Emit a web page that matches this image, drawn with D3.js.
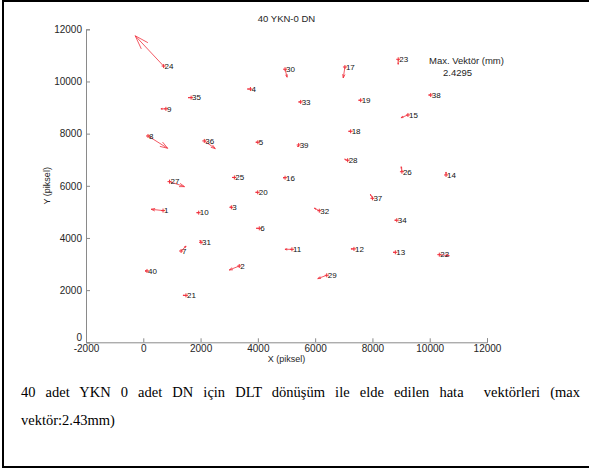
<!DOCTYPE html>
<html>
<head>
<meta charset="utf-8">
<script src="https://cdn.jsdelivr.net/npm/d3@7"></script>
<style>
	body { margin: 0; background: #fff; }
	svg { display: block; }
</style>
</head>
<body>
<div id="chart"></div>
<script>
(function () {
	"use strict";

	// nokta numaralari, konumlari (piksel) ve hata vektorleri (cizim olcegi ile)
	var pointIds = [24, 35, 9, 4, 8, 36, 5, 27, 25, 1, 10, 3, 20, 6, 31, 7, 40, 2, 21, 30,
		17, 23, 33, 19, 38, 15, 18, 39, 28, 26, 14, 16, 37, 32, 34, 11, 12, 13, 22, 29];
	var pointX = [710, 1670, 790, 3740, 165, 2130, 4000, 915, 3180, 690, 1935, 3075, 3995, 4050, 2015, 1320, 130, 3350, 1490, 4950,
		7040, 8900, 5495, 7590, 10035, 9240, 7240, 5425, 7135, 9030, 10570, 4950, 8000, 6145, 8850, 5190, 7355, 8800, 10335, 6405];
	var pointY = [10590, 9380, 8950, 9710, 7910, 7720, 7670, 6160, 6320, 5050, 4970, 5175, 5750, 4370, 3835, 3500, 2735, 2925, 1800, 10470,
		10555, 10850, 9215, 9280, 9480, 8715, 8090, 7565, 6980, 6540, 6415, 6310, 5520, 5045, 4680, 3565, 3580, 3450, 3360, 2570];
	var errX = [-992, -105, -175, -105, 688, 384, -70, 524, -70, -419, -70, -35, -70, -105, -35, 175, -70, -349, -105, 70,
		-59, 0, -70, -70, -70, -244, -70, -35, -105, -24, 0, -70, -70, -175, -70, -244, -105, -70, 349, -314];
	var errY = [1162, 0, 0, 0, -472, -295, 0, -192, 0, 50, 0, 20, 0, 0, 77, 192, 0, -153, 0, -307,
		-422, -192, 0, 0, 0, -104, 0, -77, 38, 192, 115, 0, 153, 96, 0, 0, 0, 0, -38, -127];

	var xTicks = [-2000, 0, 2000, 4000, 6000, 8000, 10000, 12000];
	var yTicks = [0, 2000, 4000, 6000, 8000, 10000, 12000];

	var title = '40 YKN-0 DN';
	var legendLines = ['Max. Vektör (mm)', '2.4295'];
	var captionLines = ['40 adet YKN 0 adet DN için DLT dönüşüm ile elde edilen hata  vektörleri (max', 'vektör:2.43mm)'];

	var WIDTH = 589;
	var HEIGHT = 469;
	var AXIS_COLOR = '#8a8a8a';
	var TEXT_COLOR = '#262626';
	var SANS = 'Arial, "Liberation Sans", sans-serif';

	var svg = d3.select('#chart').append('svg')
		.attr('width', WIDTH)
		.attr('height', HEIGHT);

	svg.append('rect')
		.attr('width', WIDTH)
		.attr('height', HEIGHT)
		.attr('fill', 'white');

	// cerceve: ust, sol ve alt kenar
	svg.append('path')
		.attr('d', 'M' + (WIDTH + 2) + ',1 H3 V467 H' + (WIDTH + 2))
		.attr('fill', 'none')
		.attr('stroke', 'black')
		.attr('stroke-width', 2);

	var x = d3.scaleLinear().domain([-2000, 12000]).range([86, 487]);
	var y = d3.scaleLinear().domain([0, 12000]).range([342.3, 29.3]);

	var plainNumber = function (d) { return String(d); };

	var xAxis = svg.append('g')
		.attr('transform', 'translate(0,' + y(0) + ')')
		.call(d3.axisBottom(x).tickValues(xTicks).tickSize(-4).tickPadding(3).tickFormat(plainNumber));
	var yAxis = svg.append('g')
		.attr('transform', 'translate(' + x(-2000) + ',0)')
		.call(d3.axisLeft(y).tickValues(yTicks).tickSize(-4).tickPadding(4).tickFormat(plainNumber));

	[xAxis, yAxis].forEach(function (axis) {
		axis.select('.domain').attr('stroke', AXIS_COLOR).attr('stroke-width', 1);
		axis.selectAll('.tick line').attr('stroke', AXIS_COLOR);
		axis.selectAll('.tick text')
			.attr('fill', TEXT_COLOR)
			.style('font-family', SANS)
			.style('font-size', '10px');
	});
	// MATLAB usulu: "0" etiketi eksenin hemen ustunde
	yAxis.selectAll('.tick text').filter(function (d) { return d === 0; }).attr('dy', '-0.15em');

	svg.append('text')
		.attr('x', (x.range()[0] + x.range()[1]) / 2)
		.attr('y', 22)
		.attr('text-anchor', 'middle')
		.attr('fill', TEXT_COLOR)
		.style('font-family', SANS)
		.style('font-size', '9.5px')
		.text(title);

	svg.append('text')
		.attr('x', (x.range()[0] + x.range()[1]) / 2)
		.attr('y', 362)
		.attr('text-anchor', 'middle')
		.attr('fill', TEXT_COLOR)
		.style('font-family', SANS)
		.style('font-size', '9px')
		.text('X (piksel)');

	svg.append('text')
		.attr('transform', 'translate(50,' + ((y.range()[0] + y.range()[1]) / 2) + ') rotate(-90)')
		.attr('text-anchor', 'middle')
		.attr('fill', TEXT_COLOR)
		.style('font-family', SANS)
		.style('font-size', '9px')
		.text('Y (piksel)');

	svg.selectAll('.legend-line')
		.data(legendLines)
		.enter()
		.append('text')
		.classed('legend-line', true)
		.attr('x', function (_, i) { return i === 0 ? 429 : 443; })
		.attr('y', function (_, i) { return 64 + i * 12; })
		.attr('fill', TEXT_COLOR)
		.style('font-family', SANS)
		.style('font-size', '9.5px')
		.text(function (d) { return d; });

	var points = pointIds.map(function (id, i) {
		return { id: id, x: pointX[i], y: pointY[i], u: errX[i], v: errY[i] };
	});

	var pointGroups = svg.append('g')
		.selectAll('.point')
		.data(points)
		.enter()
		.append('g')
		.classed('point', true);

	pointGroups.append('path')
		.attr('d', function (p) { return arrowPath(p); })
		.attr('fill', 'none')
		.attr('stroke', '#f0303c')
		.attr('stroke-width', 0.8);

	pointGroups.append('path')
		.attr('d', function (p) {
			var px = x(p.x), py = y(p.y);
			return 'M' + (px - 2) + ',' + py + 'H' + (px + 2) + 'M' + px + ',' + (py - 2) + 'V' + (py + 2);
		})
		.attr('stroke', '#f0303c')
		.attr('stroke-width', 1);

	pointGroups.append('text')
		.attr('x', function (p) { return x(p.x) + 1; })
		.attr('y', function (p) { return y(p.y); })
		.attr('dy', '0.35em')
		.attr('fill', '#111')
		.style('font-family', SANS)
		.style('font-size', '8px')
		.text(function (p) { return p.id; });

	// alt yazi, iki yana yasli
	var caption = svg.append('g')
		.selectAll('text')
		.data(captionLines)
		.enter()
		.append('text')
		.attr('x', 21)
		.attr('y', function (_, i) { return 397 + i * 28; })
		.attr('fill', 'black')
		.style('font-family', '"Liberation Serif", "Times New Roman", serif')
		.style('font-size', '14.5px')
		.style('white-space', 'pre')
		.text(function (d) { return d; });

	caption.filter(function (_, i) { return i === 0; })
		.each(function (d) {
			var textWidth = this.getComputedTextLength();
			var spaces = d.split(' ').length - 1;
			d3.select(this).attr('word-spacing', (580 - 21 - textWidth) / spaces);
		});

	function arrowPath(p) {
		var x0 = x(p.x), y0 = y(p.y);
		var x1 = x(p.x + p.u), y1 = y(p.y + p.v);
		var dx = x1 - x0, dy = y1 - y0;
		if (Math.sqrt(dx * dx + dy * dy) < 0.5) {
			return '';
		}
		var alpha = 0.33, beta = 0.33;
		var h1x = x1 - alpha * (dx + beta * dy), h1y = y1 - alpha * (dy - beta * dx);
		var h2x = x1 - alpha * (dx - beta * dy), h2y = y1 - alpha * (dy + beta * dx);
		return 'M' + x0 + ',' + y0 + 'L' + x1 + ',' + y1 +
			'M' + h1x + ',' + h1y + 'L' + x1 + ',' + y1 + 'L' + h2x + ',' + h2y;
	}
}());
</script>
</body>
</html>
